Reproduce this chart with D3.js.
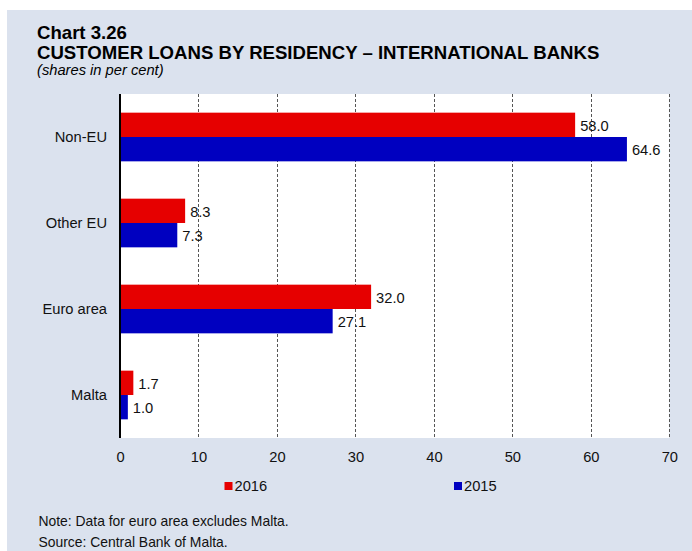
<!DOCTYPE html>
<html>
<head>
<meta charset="utf-8">
<script src="https://cdn.jsdelivr.net/npm/d3@7"></script>
<style>
  html, body { margin: 0; padding: 0; background: #ffffff; }
  svg { display: block; font-family: Arial, "Liberation Sans", sans-serif; }
</style>
</head>
<body>
<svg id="chart" width="692" height="551"></svg>
<script>
const categories = ["Non-EU", "Other EU", "Euro area", "Malta"];
const seriesNames = ["2016", "2015"];
const values2016 = [58.0, 8.3, 32.0, 1.7];
const values2015 = [64.6, 7.3, 27.1, 1.0];
const seriesColors = ["#e60000", "#0000c0"];
const xTicks = [0, 10, 20, 30, 40, 50, 60, 70];
const titleLines = ["Chart 3.26", "CUSTOMER LOANS BY RESIDENCY \u2013 INTERNATIONAL BANKS"];
const subtitle = "(shares in per cent)";
const notes = ["Note: Data for euro area excludes Malta.", "Source: Central Bank of Malta."];

const series = [values2016, values2015];

const svg = d3.select("#chart");

// background panel
svg.append("rect").attr("x", 7).attr("y", 10).attr("width", 685).attr("height", 541).attr("fill", "#dbe2ee");

// titles
svg.append("text").attr("x", 37).attr("y", 39).attr("font-size", 18.6).attr("font-weight", "bold").attr("fill", "#000").text(titleLines[0]);
svg.append("text").attr("x", 37).attr("y", 59).attr("font-size", 18.6).attr("font-weight", "bold").attr("fill", "#000").text(titleLines[1]);
svg.append("text").attr("x", 37).attr("y", 75).attr("font-size", 14.7).attr("font-style", "italic").attr("fill", "#000").text(subtitle);

const plot = { left: 120, right: 669.3, top: 94, bottom: 438 };

const x = d3.scaleLinear().domain([0, 70]).range([plot.left, plot.right]);
const y0 = d3.scaleBand().domain(categories).range([plot.top, plot.bottom]).paddingInner(0.434).paddingOuter(0.217);
const y1 = d3.scaleBand().domain(seriesNames).range([0, y0.bandwidth()]).padding(0);

// plot area
svg.append("rect").attr("x", plot.left).attr("y", plot.top).attr("width", plot.right - plot.left).attr("height", plot.bottom - plot.top).attr("fill", "#ffffff");

// gridlines
svg.append("g").selectAll("line").data(xTicks.filter(d => d > 0)).join("line")
  .attr("x1", d => Math.round(x(d)) + 0.5).attr("x2", d => Math.round(x(d)) + 0.5)
  .attr("y1", plot.top).attr("y2", plot.bottom)
  .attr("stroke", "#555").attr("stroke-width", 1).attr("stroke-dasharray", "3,2");

// bars
const groups = svg.append("g").selectAll("g").data(categories).join("g")
  .attr("transform", d => `translate(0,${y0(d)})`);

groups.each(function(cat, i) {
  const g = d3.select(this);
  seriesNames.forEach((s, j) => {
    const v = series[j][i];
    g.append("rect")
      .attr("x", x(0)).attr("y", y1(s))
      .attr("width", x(v) - x(0)).attr("height", y1.bandwidth())
      .attr("fill", seriesColors[j]);
    g.append("text")
      .attr("x", x(v) + 5).attr("y", y1(s) + y1.bandwidth() / 2 + 6)
      .attr("font-size", 14.7).attr("fill", "#111")
      .text(v.toFixed(1));
  });
});

// category labels
svg.append("g").selectAll("text").data(categories).join("text")
  .attr("x", 107).attr("y", d => y0(d) + y0.bandwidth() / 2 + 5.3)
  .attr("text-anchor", "end").attr("font-size", 14.7).attr("fill", "#111")
  .text(d => d);

// y axis line
svg.append("line").attr("x1", plot.left).attr("x2", plot.left).attr("y1", plot.top).attr("y2", plot.bottom)
  .attr("stroke", "#000").attr("stroke-width", 2);

// x axis tick labels
const xAxis = d3.axisBottom(x).tickValues(xTicks).tickSize(0).tickPadding(0).tickFormat(d3.format("d"));
const xg = svg.append("g").attr("transform", `translate(0,${plot.bottom})`).call(xAxis);
xg.select(".domain").remove();
xg.selectAll("text").attr("font-size", 14.7).attr("font-family", "Arial, 'Liberation Sans', sans-serif")
  .attr("fill", "#111").attr("dy", null).attr("y", 23.5);

// legend
const legendX = [224.5, 454];
seriesNames.forEach((s, j) => {
  svg.append("rect").attr("x", legendX[j]).attr("y", 482).attr("width", 8).attr("height", 8).attr("fill", seriesColors[j]);
  svg.append("text").attr("x", legendX[j] + 10).attr("y", 491).attr("font-size", 14.7).attr("fill", "#111").text(s);
});

// notes
svg.append("text").attr("x", 38.5).attr("y", 525.5).attr("font-size", 13.9).attr("fill", "#111").text(notes[0]);
svg.append("text").attr("x", 38.5).attr("y", 546.5).attr("font-size", 13.9).attr("fill", "#111").text(notes[1]);
</script>
</body>
</html>
